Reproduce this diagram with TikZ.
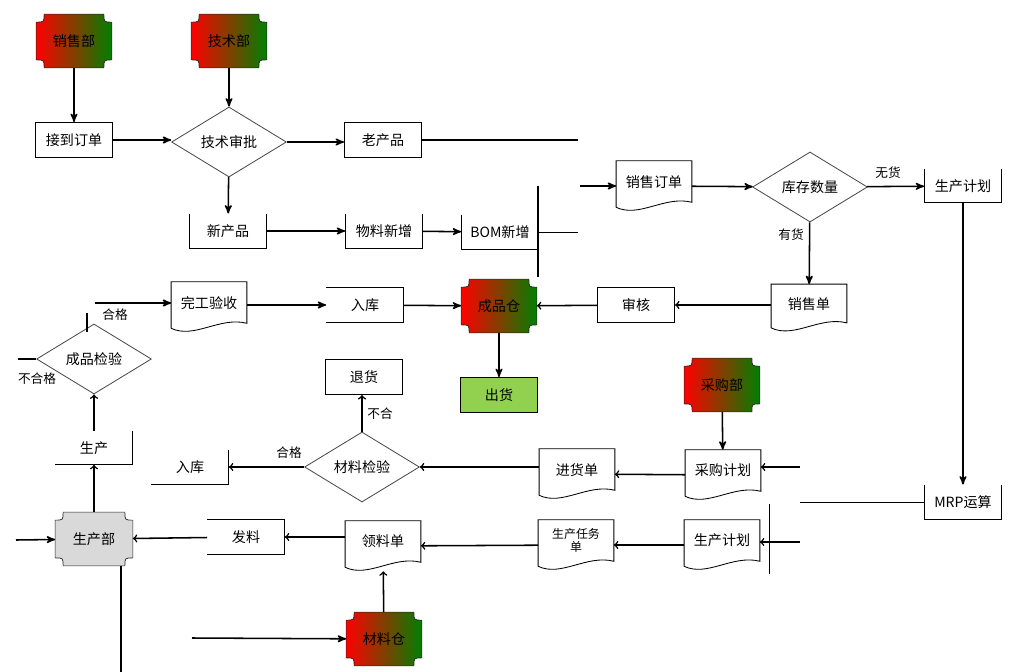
\documentclass[tikz,border=0pt]{standalone}
\usepackage{fontspec}
\newfontfamily\cjk{Noto Sans CJK SC}
\usetikzlibrary{arrows,shapes.geometric,backgrounds}

% notched department box, drawn behind its node
\newcommand{\deptbg}[2]{%
  \begin{pgfonlayer}{background}
    \path[draw=black!85,line width=0.5pt,#2]
      ([shift={(8,0)}]#1.north west) -- ([shift={(-8,0)}]#1.north east)
      .. controls ([shift={(-8,8)}]#1.north east) .. ([shift={(0,8)}]#1.north east)
      -- ([shift={(0,-8)}]#1.south east)
      .. controls ([shift={(-8,-8)}]#1.south east) .. ([shift={(-8,0)}]#1.south east)
      -- ([shift={(8,0)}]#1.south west)
      .. controls ([shift={(8,-8)}]#1.south west) .. ([shift={(0,-8)}]#1.south west)
      -- ([shift={(0,8)}]#1.north west)
      .. controls ([shift={(8,8)}]#1.north west) .. ([shift={(8,0)}]#1.north west)
      -- cycle;
  \end{pgfonlayer}}

% document outline with wavy foot
\newcommand{\docfoot}[1]{%
  \draw[line width=0.6pt] ([shift={(0,-4)}]#1.south west) -- (#1.north west) -- (#1.north east)
    -- ([shift={(0,-9)}]#1.south east)
    .. controls ([shift={(-27,-16)}]#1.south east) and ([shift={(23,7)}]#1.south west)
    .. ([shift={(0,-4)}]#1.south west);}

\begin{document}
\begin{tikzpicture}[x=0.025cm,y=-0.025cm,>=stealth']
\tikzstyle{every node}=[font=\cjk\fontsize{10pt}{12pt}\selectfont,inner sep=1pt]
\tikzstyle{box}=[draw,line width=0.6pt,minimum width=1.93cm,minimum height=0.88cm]
\tikzstyle{bare}=[minimum width=1.93cm,minimum height=0.86cm]
\tikzstyle{doc}=[minimum width=1.88cm,minimum height=1.25cm,text depth=7pt]
\tikzstyle{dept}=[minimum width=1.88cm,minimum height=1.33cm]
\tikzstyle{check}=[diamond,draw=black!70,line width=0.6pt,aspect=1.6,minimum width=2.87cm,minimum height=1.75cm,inner sep=0pt]
\tikzstyle{flow}=[->,line width=1.1pt]
\tikzstyle{back}=[->,>=to,line width=1.1pt]
\tikzstyle{wire}=[line width=1.1pt]
\tikzstyle{frame}=[line width=0.6pt]
\tikzstyle{lbl}=[font=\cjk\fontsize{9pt}{11pt}\selectfont]

\useasboundingbox (0,0) rectangle (1022,672);

        \node[dept]                    (xsb)   at (74,41)    {销售部};
        \node[dept]                    (jsb)   at (229,41)   {技术部};
        \node[dept]                    (cpc)   at (499,306)  {成品仓};
        \node[dept]                    (cgb)   at (722,385)  {采购部};
        \node[dept]                    (clc)   at (384,639)  {材料仓};
        \node[dept, minimum width=1.93cm] (scb) at (94,539)  {生产部};
        \deptbg{xsb}{left color=red,right color=green!50!black}
        \deptbg{jsb}{left color=red,right color=green!50!black}
        \deptbg{cpc}{left color=red,right color=green!50!black}
        \deptbg{cgb}{left color=red,right color=green!50!black}
        \deptbg{clc}{left color=red,right color=green!50!black}
        \deptbg{scb}{fill=black!15}

        \node[box]                     (jd)    at (74,140)   {接到订单};
        \node[check]                   (jssp)  at (229,142)  {技术审批};
        \node[box]                     (lcp)   at (383,140)  {老产品};
        \node[bare]                    (xcp)   at (228,231)  {新产品};
        \node[bare]                    (wlxz)  at (384,231)  {物料新增};
        \node[bare]                    (bom)   at (500,232)  {BOM新增};

        \node[doc]                     (xsdd)  at (654,186)  {销售订单};
        \node[check]                   (kcsl)  at (810,187)  {库存数量};
        \node[bare, minimum height=0.83cm] (scja) at (963,186) {生产计划};
        \node[doc, minimum height=1.18cm] (xsd) at (809,308) {销售单};
        \node[box]                     (sh)    at (636,305)  {审核};

        \node[bare]                    (rka)   at (365,305)  {入库};
        \node[doc]                     (wgys)  at (209,307)  {完工验收};
        \node[check]                   (cpjy)  at (94,359)   {成品检验};
        \node[bare, minimum height=0.83cm] (sc) at (94,448)  {生产};
        \node[box]                     (th)    at (364,377)  {退货};
        \node[box, fill={rgb,255:red,146;green,208;blue,80}] (ch) at (499,395) {出货};

        \node[bare]                    (rkb)   at (190,467)  {入库};
        \node[check]                   (cljy)  at (362,467)  {材料检验};
        \node[doc]                     (jhd)   at (577,474)  {进货单};
        \node[doc]                     (cgjh)  at (723,475)  {采购计划};
        \node[bare]                    (mrp)   at (963,502)  {MRP运算};

        \node[bare]                    (fl)    at (246,537)  {发料};
        \node[doc]                     (lld)   at (383,546)  {领料单};
        \node[doc, align=center, font=\cjk\fontsize{8.5pt}{9pt}\selectfont] (scrw) at (576,545) {生产任务\\单};
        \node[doc]                     (scjb)  at (722,545)  {生产计划};

        \node[lbl] (wh)   at (888,173) {无货};
        \node[lbl] (yh)   at (791,235) {有货};
        \node[lbl] (hga)  at (115,315) {合格};
        \node[lbl] (bhg)  at (37,379)  {不合格};
        \node[lbl] (hgb)  at (289,453) {合格};
        \node[lbl] (bh)   at (380,414) {不合};

        % loose line ends
        \coordinate (lcpend)  at (578,140);
        \coordinate (bomend)  at (578,232);
        \coordinate (vtop)    at (538,186);
        \coordinate (vbot)    at (538,277);
        \coordinate (xsddin)  at (580,186);
        \coordinate (hgin)    at (95,303);
        \coordinate (ticka)   at (87,313);
        \coordinate (tickb)   at (87,332);
        \coordinate (bhgend)  at (18,359);
        \coordinate (scbin)   at (16,540);
        \coordinate (scbv)    at (121,672);
        \coordinate (cgjhin)  at (800,467);
        \coordinate (mrpend)  at (800,502);
        \coordinate (vbara)   at (769,504);
        \coordinate (vbarb)   at (769,574);
        \coordinate (scjbin)  at (800,542);
        \coordinate (clcin)   at (192,638);

        \docfoot{xsdd} \docfoot{xsd} \docfoot{wgys} \docfoot{jhd}
        \docfoot{cgjh} \docfoot{lld} \docfoot{scrw} \docfoot{scjb}

        \draw[frame] (xcp.north west) -- (xcp.south west) -- (xcp.south east) -- (xcp.north east);
        \draw[frame] (wlxz.north west) -- (wlxz.south west) -- (wlxz.south east) -- (wlxz.north east);
        \draw[frame] (bom.north west) -- (bom.south west) -- (bom.south east) -- (bom.north east);
        \draw[frame] (scja.north west) -- (scja.south west) -- (scja.south east) -- (scja.north east);
        \draw[frame] (mrp.north west) -- (mrp.south west) -- (mrp.south east) -- (mrp.north east);
        \draw[frame] (rka.north west) -- (rka.north east) -- (rka.south east) -- (rka.south west);
        \draw[frame] (fl.north west) -- (fl.north east) -- (fl.south east) -- (fl.south west);
        \draw[frame] (sc.north east) -- (sc.south east) -- (sc.south west);
        \draw[frame] (rkb.north east) -- (rkb.south east) -- (rkb.south west);

        \path[flow]
        (xsb)   edge                  (jd)
        (jsb)   edge                  (jssp)
        (jd.east) edge                (jd.east -| jssp.west)
        (jssp.east) edge              (jssp.east -| lcp.west)
        (jssp)  edge                  (xcp)
        (xcp)   edge                  (wlxz)
        (wlxz)  edge                  (bom)
        (xsddin) edge                 (xsdd)
        (xsdd)  edge                  (kcsl)
        (kcsl)  edge                  (scja)
        (kcsl)  edge                  (xsd)
        (cpc)   edge                  (ch)
        (rka)   edge                  (cpc)
        (wgys.east |- rka.west) edge  (rka.west)
        (hgin)  edge                  (hgin -| wgys.west)
        (scbin) edge                  (scb)
        (scja)  edge                  (mrp)
        (cgb)   edge                  (cgjh)
        (clcin) edge                  (clc)
        ; %end path

        \path[back]
        (xsd.west |- sh.east) edge    (sh.east)
        (sh)    edge                  (cpc)
        (sc)    edge                  (cpjy)
        (scb)   edge                  (sc)
        (fl)    edge                  (scb)
        (lld.west |- fl.east) edge    (fl.east)
        (scrw)  edge                  (lld)
        (scjb)  edge                  (scrw)
        (scjbin) edge                 (scjbin -| scjb.east)
        (cgjhin) edge                 (cgjhin -| cgjh.east)
        (cgjh)  edge                  (jhd)
        (jhd.west |- cljy.east) edge  (cljy.east)
        (cljy)  edge                  (rkb)
        (cljy.north) edge             (cljy.north |- th.south)
        (clc)   edge                  (lld)
        ; %end path

        \path[wire]
        (lcp.east) edge               (lcpend)
        (bom.east) edge[line width=0.6pt] (bomend)
        (vtop)  edge                  (vbot)
        (ticka) edge                  (tickb)
        (bhgend) edge                 (cpjy.west)
        (scb.south -| scbv) edge      (scbv)
        (mrp)   edge[line width=0.6pt] (mrpend)
        (vbara) edge[line width=0.6pt] (vbarb)
        ; %end path

\end{tikzpicture}
\end{document}
